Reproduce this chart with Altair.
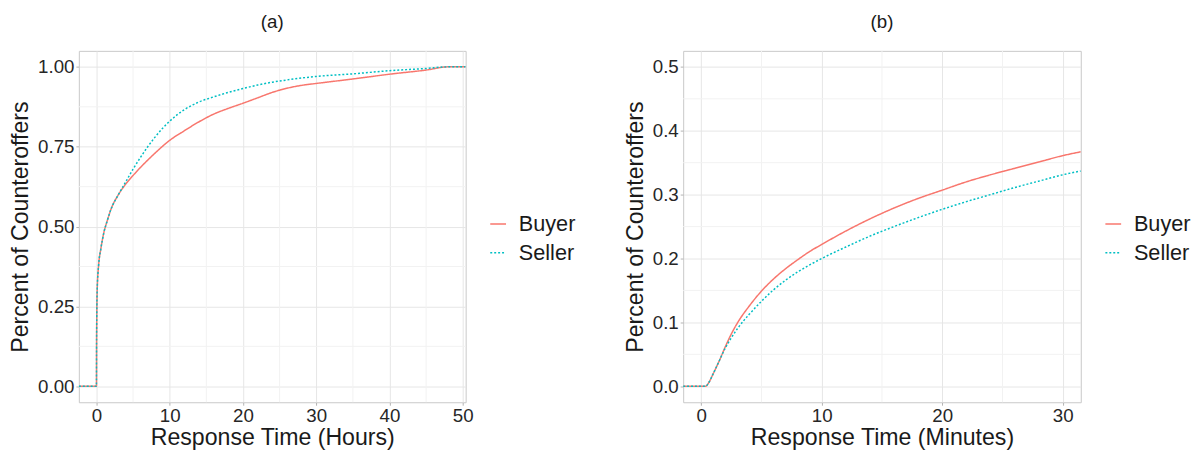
import altair as alt
import pandas as pd

# ---------------- Panel (a): response time in hours ----------------
a_buyer_x = [-2.4, 0, 0.02, 0.1, 0.3, 0.6, 1, 1.5, 2, 3, 4, 5, 6, 7, 8, 10, 12, 14, 16, 18, 20, 22, 24, 25, 26, 28, 30, 35, 40, 45, 48, 50.4]
a_buyer_y = [0, 0, 0.15, 0.30, 0.38, 0.43, 0.48, 0.52, 0.555, 0.60, 0.633, 0.66, 0.685, 0.708, 0.73, 0.77, 0.80, 0.828, 0.852, 0.87, 0.886, 0.903, 0.92, 0.927, 0.933, 0.942, 0.948, 0.962, 0.977, 0.99, 1.0, 1.0]
a_seller_x = [-2.4, 0, 0.02, 0.1, 0.3, 0.6, 1, 1.5, 2, 3, 4, 5, 6, 7, 8, 9, 10, 12, 14, 16, 18, 20, 22, 24, 26, 28, 30, 35, 40, 45, 48, 50.4]
a_seller_y = [0, 0, 0.15, 0.30, 0.38, 0.43, 0.48, 0.52, 0.555, 0.60, 0.64, 0.68, 0.716, 0.75, 0.78, 0.807, 0.83, 0.866, 0.89, 0.906, 0.92, 0.932, 0.943, 0.952, 0.959, 0.965, 0.97, 0.978, 0.988, 0.995, 1.0, 1.0]

# ---------------- Panel (b): response time in minutes ----------------
b_buyer_x = [-1.5, 0.35, 0.6, 1, 1.5, 2, 2.5, 3, 4, 5, 6, 7, 8, 9, 10, 12, 14, 16, 18, 20, 22, 24, 26, 28, 30, 31.5]
b_buyer_y = [0, 0, 0.005, 0.02, 0.04, 0.062, 0.082, 0.099, 0.126, 0.149, 0.168, 0.184, 0.198, 0.211, 0.222, 0.243, 0.262, 0.279, 0.294, 0.307, 0.320, 0.331, 0.341, 0.351, 0.361, 0.367]
b_seller_x = [-1.5, 0.35, 0.6, 1, 1.5, 2, 2.5, 3, 4, 5, 6, 7, 8, 9, 10, 12, 14, 16, 18, 20, 22, 24, 26, 28, 30, 31.5]
b_seller_y = [0, 0, 0.005, 0.02, 0.04, 0.06, 0.076, 0.09, 0.113, 0.133, 0.151, 0.166, 0.179, 0.19, 0.2, 0.218, 0.235, 0.250, 0.264, 0.277, 0.289, 0.300, 0.311, 0.321, 0.331, 0.337]

roles = ["Buyer", "Seller"]
colors = ["#F8766D", "#00BFC4"]

a_x_ticks = [0, 10, 20, 30, 40, 50]
a_x_minor = [5, 15, 25, 35, 45]
a_y_ticks = [0, 0.25, 0.5, 0.75, 1.0]
a_y_minor = [0.125, 0.375, 0.625, 0.875]

b_x_ticks = [0, 10, 20, 30]
b_x_minor = [5, 15, 25]
b_y_ticks = [0, 0.1, 0.2, 0.3, 0.4, 0.5]
b_y_minor = [0.05, 0.15, 0.25, 0.35, 0.45]

FONT = "Liberation Sans"
Y_TITLE = "Percent of Counteroffers"


def make_df(bx, by, sx, sy):
    rows = [{"x": x, "y": y, "role": "Buyer"} for x, y in zip(bx, by)]
    rows += [{"x": x, "y": y, "role": "Seller"} for x, y in zip(sx, sy)]
    return pd.DataFrame(rows)


def panel(df, title, x_title, xdom, ydom, xt, xm, yt, ym, yfmt, w, h):
    xs = alt.Scale(domain=xdom, nice=False, zero=False)
    ys = alt.Scale(domain=ydom, nice=False, zero=False)
    xax = alt.Axis(values=xt, format="d", grid=True)
    yax = alt.Axis(values=yt, format=yfmt, grid=True)

    def X(f):
        return alt.X(f, scale=xs, title=x_title, axis=xax)

    def Y(f):
        return alt.Y(f, scale=ys, title=Y_TITLE, axis=yax)

    xgrid = alt.Chart(pd.DataFrame({"x": xm})).mark_rule(
        color="#F2F2F2", strokeWidth=1
    ).encode(x=X("x:Q"))
    ygrid = alt.Chart(pd.DataFrame({"y": ym})).mark_rule(
        color="#F2F2F2", strokeWidth=1
    ).encode(y=Y("y:Q"))
    leg = alt.Legend(
        orient="none", legendX=w + 22, legendY=165, title=None,
        symbolType="stroke", symbolSize=256, symbolStrokeWidth=1.5,
        labelFontSize=22, labelFont=FONT, labelColor="#1a1a1a",
        labelOffset=10, rowPadding=7, padding=0,
    )
    lines = alt.Chart(df).mark_line(strokeWidth=1.5, clip=True, interpolate="monotone").encode(
        x=X("x:Q"),
        y=Y("y:Q"),
        color=alt.Color("role:N", scale=alt.Scale(domain=roles, range=colors), legend=leg),
        strokeDash=alt.StrokeDash("role:N", scale=alt.Scale(domain=roles, range=[[1, 0], [2, 2]]), legend=leg),
        detail="role:N",
    )
    return alt.layer(xgrid, ygrid, lines).properties(
        width=w, height=h,
        title=alt.TitleParams(title, fontSize=19, font=FONT, fontWeight="normal",
                              color="#1a1a1a", anchor="middle", frame="group", offset=19),
    )


pa = panel(make_df(a_buyer_x, a_buyer_y, a_seller_x, a_seller_y), "(a)", "Response Time (Hours)",
           [-2.4, 50.4], [-0.05, 1.05], a_x_ticks, a_x_minor, a_y_ticks, a_y_minor, ".2f", 393, 357)
pb = panel(make_df(b_buyer_x, b_buyer_y, b_seller_x, b_seller_y), "(b)", "Response Time (Minutes)",
           [-1.5, 31.5], [-0.025, 0.525], b_x_ticks, b_x_minor, b_y_ticks, b_y_minor, ".1f", 404, 357)

chart = alt.hconcat(pa, pb, spacing=47).resolve_scale(
    color="independent", strokeDash="independent"
).resolve_legend(color="independent", strokeDash="independent").properties(
    padding={"left": 0, "top": 1, "right": 0, "bottom": 0}
).configure_view(
    stroke="#C8C8C8", strokeWidth=1
).configure_axis(
    labelFont=FONT, titleFont=FONT, labelFontSize=19, titleFontSize=23.5,
    titleFontWeight="normal", labelColor="#262626", titleColor="#1a1a1a",
    gridColor="#E6E6E6", gridWidth=1, domain=False,
    tickSize=3, tickColor="#B3B3B3", labelPadding=2, labelFlush=False,
).configure_axisY(titlePadding=5).configure_axisX(titlePadding=0)

chart.save("out.html", embed_options={"renderer": "svg", "actions": False})
